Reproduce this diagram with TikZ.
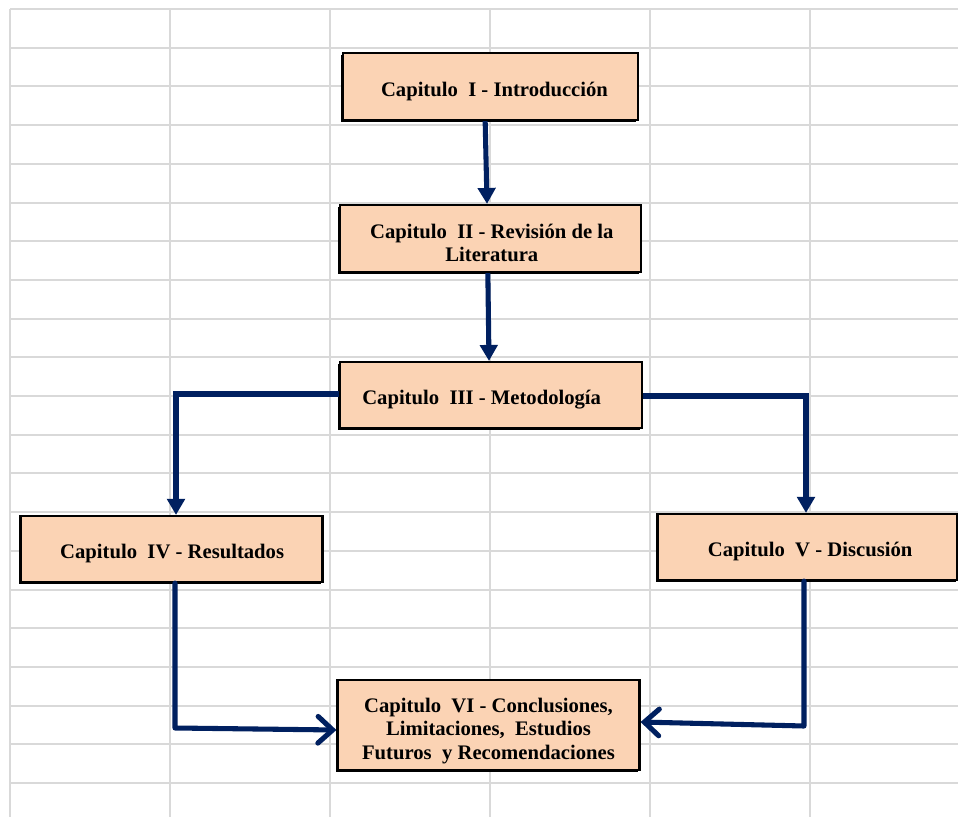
\documentclass[tikz,border=0pt]{standalone}
\usepackage{fontspec}
\setmainfont{Liberation Serif}
\usetikzlibrary{arrows.meta,calc,shadows}
\definecolor{peach}{RGB}{251,211,180}
\definecolor{navy}{RGB}{0,32,96}
\definecolor{gridgray}{RGB}{217,217,217}
\tikzset{
  chap/.style={draw=black, line width=1.6pt, fill=peach, inner sep=0pt,
    drop shadow={shadow xshift=-1.5pt, shadow yshift=-1.5pt, fill=black, opacity=1}},
  chaptext/.style={inner sep=0pt, align=center,
    font=\fontsize{15.5pt}{17.5pt}\selectfont\bfseries},
  flow/.style={draw=navy, line width=3.8pt, -{Triangle[length=12pt,width=13pt]}},
  flowopen/.style={draw=navy, line width=3.8pt, line cap=round, line join=round, -{Straight Barb[length=11pt,width=20pt,line cap=round]}},
  gridline/.style={draw=gridgray, line width=1.5pt}
}
\begin{document}
\begin{tikzpicture}[x=0.75pt,y=-0.75pt]
\useasboundingbox (0,0) rectangle (958,817);
\fill[white] (0,0) rectangle (958,817);
% grid
\foreach \k in {0,...,20} {
  \draw[gridline] (10,{9+38.7*\k}) -- (958,{9+38.7*\k});
}
\foreach \xx in {10,170,330,490,650,810} {
  \draw[gridline] (\xx,9) -- (\xx,817);
}
% boxes
\node[chap, minimum width=295*0.75pt, minimum height=67*0.75pt] (c1) at (490.5,86.5) {};
\node[chap, minimum width=301*0.75pt, minimum height=67*0.75pt] (c2) at (490.5,238.5) {};
\node[chap, minimum width=302*0.75pt, minimum height=66*0.75pt] (c3) at (491,395) {};
\node[chap, minimum width=302*0.75pt, minimum height=66*0.75pt] (c4) at (171.5,549) {};
\node[chap, minimum width=300*0.75pt, minimum height=66*0.75pt] (c5) at (807.5,547) {};
\node[chap, minimum width=302*0.75pt, minimum height=90*0.75pt] (c6) at (488.5,725) {};
% texts
\node[chaptext] (t1) at ([xshift=3pt,yshift=-3.5pt]c1.center) {Capitulo~ I - Introducción};
\node[chaptext] (t2) at ([xshift=1pt,yshift=-3.5pt]c2.center) {Capitulo~ II - Revisión de la\\Literatura};
\node[chaptext] (t3) at ([xshift=-7pt,yshift=-3.5pt]c3.center) {Capitulo~ III - Metodología};
\node[chaptext] (t4) at ([xshift=0.5pt,yshift=-3.5pt]c4.center) {Capitulo~ IV - Resultados};
\node[chaptext] (t5) at ([xshift=2pt,yshift=-3.5pt]c5.center) {Capitulo~ V - Discusión};
\node[chaptext] (t6) at ([xshift=0pt,yshift=-4.5pt]c6.center) {Capitulo~ VI - Conclusiones,\\Limitaciones,~ Estudios\\Futuros~ y Recomendaciones};
% connectors
\draw[flow] ([xshift=-4pt]c1.south) -- ([xshift=-2.6pt]c2.north);
\draw[flow] ([xshift=-2pt]c2.south) -- ([xshift=-1.5pt]c3.north);
\draw[flow] ([yshift=0.75pt]c3.west) -| (c4.north -| 176,0);
\draw[flow] ([yshift=-0.75pt]c3.east) -| (c5.north -| 806,0);
\coordinate (b4) at (175,728);
\coordinate (b5) at (804,726);
\draw[flowopen] (c4.south -| 175,0) -- (b4) -- ([yshift=-3.75pt]c6.west);
\draw[flowopen] (c5.south -| 804,0) -- (b5) -- ([yshift=2.25pt]c6.east);
\end{tikzpicture}
\end{document}
